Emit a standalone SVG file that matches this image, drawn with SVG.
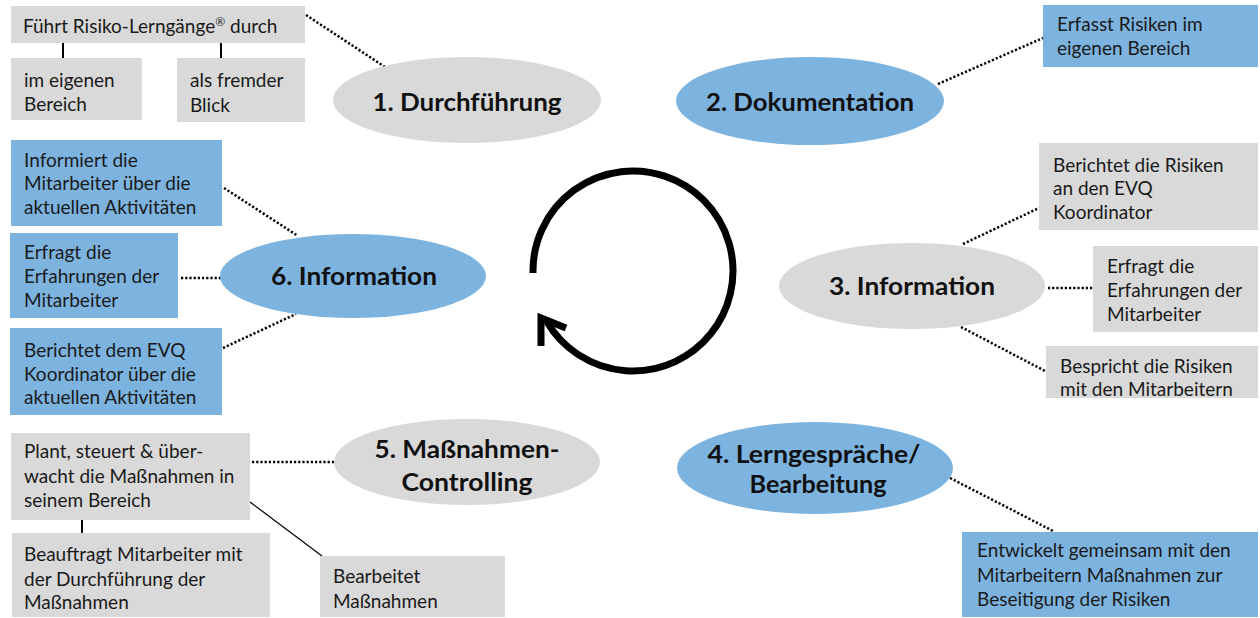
<svg xmlns="http://www.w3.org/2000/svg" width="1260" height="618" viewBox="0 0 1260 618">
  <style>
    .g { fill: #d9d9d9; }
    .b { fill: #7db3df; }
    .t { font-family: Lato, "Open Sans", "Liberation Sans", sans-serif; font-size: 19px; fill: #1a1a1a; }
    .h { font-family: Lato, "Open Sans", "Liberation Sans", sans-serif; font-size: 24.5px; font-weight: bold; fill: #111; text-anchor: middle; }
    .dot { stroke: #000; stroke-width: 2.5; stroke-dasharray: 2.2 2; fill: none; }
    .ln { stroke: #000; fill: none; }
  </style>

  <!-- connectors -->
  <g id="connectors">
    <line class="ln" x1="63" y1="43" x2="63" y2="58" stroke-width="2"/>
    <line class="ln" x1="221" y1="43" x2="221" y2="58" stroke-width="2"/>
    <line class="dot" x1="306" y1="15" x2="385" y2="67"/>
    <line class="dot" x1="938" y1="84" x2="1043" y2="38"/>
    <line class="dot" x1="224" y1="188" x2="298" y2="236"/>
    <line class="dot" x1="181" y1="278" x2="221" y2="278"/>
    <line class="dot" x1="223" y1="348" x2="296" y2="314"/>
    <line class="dot" x1="963" y1="244" x2="1039" y2="208"/>
    <line class="dot" x1="1048" y1="288" x2="1093" y2="288"/>
    <line class="dot" x1="961" y1="327" x2="1045" y2="371"/>
    <line class="dot" x1="252" y1="462" x2="335" y2="462"/>
    <line class="ln" x1="250" y1="502" x2="322" y2="556" stroke-width="1.2"/>
    <line class="ln" x1="82" y1="520" x2="82" y2="533" stroke-width="2"/>
    <line class="dot" x1="950" y1="478" x2="1053" y2="531"/>
  </g>

  <!-- central cycle arrow -->
  <g id="cycle">
    <path d="M 533 273 A 100 100 0 1 1 547 322" fill="none" stroke="#000" stroke-width="7"/>
    <polyline points="566,328 541,318 541,346" fill="none" stroke="#000" stroke-width="7" stroke-linejoin="miter"/>
  </g>

  <!-- 1. Durchführung -->
  <g id="n1">
    <ellipse class="g" cx="467" cy="100" rx="134" ry="43"/>
    <text class="h" x="467" y="111" textLength="189" lengthAdjust="spacingAndGlyphs">1. Durchführung</text>
  </g>
  <g id="n1a">
    <rect class="g" x="11" y="6" width="294" height="37"/>
    <text class="t" x="23" y="33">Führt Risiko-Lerngänge<tspan font-size="12" dy="-7">®</tspan><tspan dy="7"> durch</tspan></text>
  </g>
  <g id="n1b">
    <rect class="g" x="11" y="58" width="131" height="62"/>
    <text class="t" x="24" y="87">im eigenen</text>
    <text class="t" x="24" y="111">Bereich</text>
  </g>
  <g id="n1c">
    <rect class="g" x="177" y="58" width="128" height="64"/>
    <text class="t" x="190" y="87">als fremder</text>
    <text class="t" x="190" y="112">Blick</text>
  </g>

  <!-- 2. Dokumentation -->
  <g id="n2">
    <ellipse class="b" cx="810" cy="101" rx="134" ry="44"/>
    <text class="h" x="810" y="111" textLength="208" lengthAdjust="spacingAndGlyphs">2. Dokumentation</text>
  </g>
  <g id="n2a">
    <rect class="b" x="1043" y="5" width="215" height="62"/>
    <text class="t" x="1057" y="31">Erfasst Risiken im</text>
    <text class="t" x="1057" y="55">eigenen Bereich</text>
  </g>

  <!-- 3. Information -->
  <g id="n3">
    <ellipse class="g" cx="912" cy="286" rx="133" ry="43"/>
    <text class="h" x="912" y="295" textLength="166" lengthAdjust="spacingAndGlyphs">3. Information</text>
  </g>
  <g id="n3a">
    <rect class="g" x="1039" y="143" width="219" height="87"/>
    <text class="t" x="1053" y="172">Berichtet die Risiken</text>
    <text class="t" x="1053" y="195">an den EVQ</text>
    <text class="t" x="1053" y="219">Koordinator</text>
  </g>
  <g id="n3b">
    <rect class="g" x="1093" y="246" width="165" height="86"/>
    <text class="t" x="1107" y="273">Erfragt die</text>
    <text class="t" x="1107" y="297">Erfahrungen der</text>
    <text class="t" x="1107" y="321">Mitarbeiter</text>
  </g>
  <g id="n3c">
    <rect class="g" x="1046" y="346" width="212" height="52"/>
    <text class="t" x="1060" y="373">Bespricht die Risiken</text>
    <text class="t" x="1060" y="396">mit den Mitarbeitern</text>
  </g>

  <!-- 4. Lerngespräche / Bearbeitung -->
  <g id="n4">
    <ellipse class="b" cx="815" cy="468" rx="138" ry="46"/>
    <text class="h" x="814" y="463" textLength="213" lengthAdjust="spacingAndGlyphs">4. Lerngespräche/</text>
    <text class="h" x="818" y="493" textLength="137" lengthAdjust="spacingAndGlyphs">Bearbeitung</text>
  </g>
  <g id="n4a">
    <rect class="b" x="962" y="532" width="296" height="85"/>
    <text class="t" x="977" y="557">Entwickelt gemeinsam mit den</text>
    <text class="t" x="977" y="582">Mitarbeitern Maßnahmen zur</text>
    <text class="t" x="977" y="606">Beseitigung der Risiken</text>
  </g>

  <!-- 5. Maßnahmen-Controlling -->
  <g id="n5">
    <ellipse class="g" cx="467" cy="462" rx="133" ry="43"/>
    <text class="h" x="467" y="458" textLength="185" lengthAdjust="spacingAndGlyphs">5. Maßnahmen-</text>
    <text class="h" x="467" y="491" textLength="131" lengthAdjust="spacingAndGlyphs">Controlling</text>
  </g>
  <g id="n5a">
    <rect class="g" x="11" y="433" width="239" height="87"/>
    <text class="t" x="24" y="458">Plant, steuert &amp; über-</text>
    <text class="t" x="24" y="483">wacht die Maßnahmen in</text>
    <text class="t" x="24" y="507">seinem Bereich</text>
  </g>
  <g id="n5b">
    <rect class="g" x="12" y="533" width="258" height="84"/>
    <text class="t" x="24" y="561">Beauftragt Mitarbeiter mit</text>
    <text class="t" x="24" y="586">der Durchführung der</text>
    <text class="t" x="24" y="609">Maßnahmen</text>
  </g>
  <g id="n5c">
    <rect class="g" x="320" y="556" width="185" height="61"/>
    <text class="t" x="333" y="583">Bearbeitet</text>
    <text class="t" x="333" y="608">Maßnahmen</text>
  </g>

  <!-- 6. Information -->
  <g id="n6">
    <ellipse class="b" cx="353" cy="276" rx="133" ry="42"/>
    <text class="h" x="354" y="285" textLength="166" lengthAdjust="spacingAndGlyphs">6. Information</text>
  </g>
  <g id="n6a">
    <rect class="b" x="11" y="140" width="211" height="86"/>
    <text class="t" x="24" y="167">Informiert die</text>
    <text class="t" x="24" y="190">Mitarbeiter über die</text>
    <text class="t" x="24" y="214">aktuellen Aktivitäten</text>
  </g>
  <g id="n6b">
    <rect class="b" x="10" y="233" width="168" height="85"/>
    <text class="t" x="24" y="259">Erfragt die</text>
    <text class="t" x="24" y="283">Erfahrungen der</text>
    <text class="t" x="24" y="307">Mitarbeiter</text>
  </g>
  <g id="n6c">
    <rect class="b" x="10" y="328" width="212" height="87"/>
    <text class="t" x="24" y="357">Berichtet dem EVQ</text>
    <text class="t" x="24" y="381">Koordinator über die</text>
    <text class="t" x="24" y="404">aktuellen Aktivitäten</text>
  </g>
</svg>
